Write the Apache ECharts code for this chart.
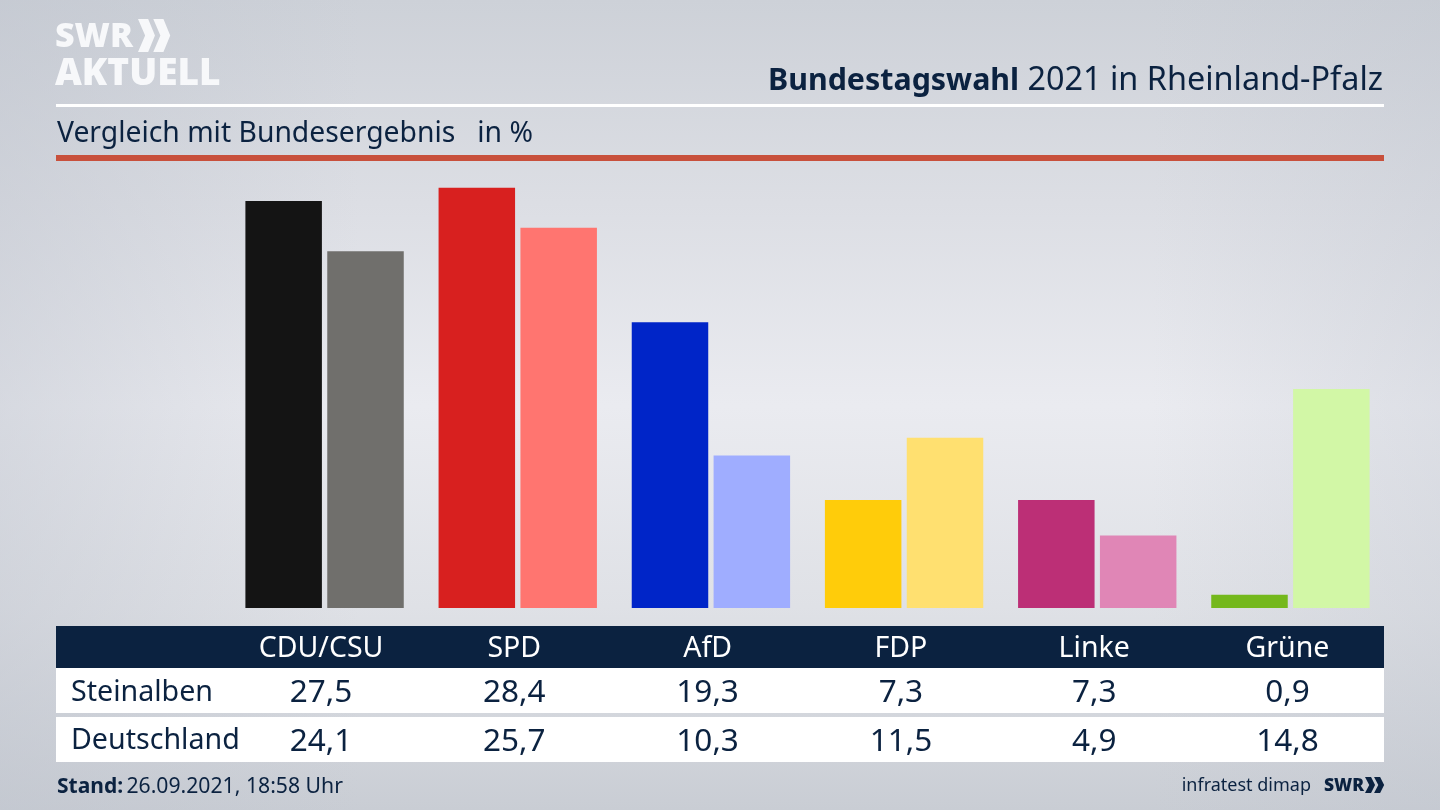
<!DOCTYPE html>
<html>
<head>
<meta charset="utf-8">
<title>Bundestagswahl 2021 in Rheinland-Pfalz</title>
<script src="https://cdn.jsdelivr.net/npm/echarts@6/dist/echarts.min.js"></script>
<style>
html, body { margin: 0; padding: 0; }
#chart { width: 1440px; height: 810px; }
</style>
</head>
<body>
<div id="chart"></div>
<script>
var parties = ['CDU/CSU', 'SPD', 'AfD', 'FDP', 'Linke', 'Grüne'];
var steinalben = [27.5, 28.4, 19.3, 7.3, 7.3, 0.9];
var deutschland = [24.1, 25.7, 10.3, 11.5, 4.9, 14.8];
var colorsDark = ['#141414', '#d8201f', '#0025c8', '#ffcc0a', '#bc2f76', '#74b81c'];
var colorsLight = ['#706f6c', '#ff7570', '#9fadff', '#ffe070', '#e086b6', '#d2f7a6'];

var navy = '#0b2240';
var font = '"Noto Sans"';
var myChart = echarts.init(document.getElementById('chart'));

function fmt(v) {
    return v.toFixed(1).replace('.', ',');
}

function rect(x, y, w, h, fill) {
    return { type: 'rect', silent: true, shape: { x: x, y: y, width: w, height: h }, style: { fill: fill } };
}

function text(x, y, str, size, color, align, weight) {
    return {
        type: 'text', silent: true, x: x, y: y,
        style: {
            text: str, fontFamily: font, fontSize: size, fill: color,
            align: align || 'left', verticalAlign: 'middle', fontWeight: weight || 'normal'
        }
    };
}

function chevrons(x, y, w, h, fill) {
    var d = w * 0.53;
    var res = [];
    [0, d * 0.9].forEach(function (off) {
        res.push({
            type: 'polygon', silent: true,
            shape: { points: [
                [x + off, y], [x + off + d * 0.6, y], [x + off + d, y + h / 2],
                [x + off + d * 0.6, y + h], [x + off, y + h], [x + off + d * 0.42, y + h / 2]
            ] },
            style: { fill: fill }
        });
    });
    return res;
}

var g = [];
// soft vignette on the sides
g.push({
    type: 'rect', silent: true, z: -1,
    shape: { x: 0, y: 0, width: 1440, height: 810 },
    style: { fill: new echarts.graphic.LinearGradient(0, 0, 1, 0, [
        { offset: 0, color: 'rgba(190,195,205,0.45)' },
        { offset: 0.25, color: 'rgba(190,195,205,0)' },
        { offset: 0.8, color: 'rgba(190,195,205,0)' },
        { offset: 1, color: 'rgba(190,195,205,0.3)' }
    ]) }
});

// logo
g.push(text(55, 37, 'SWR', 34, '#f7f8fa', 'left', 900));
g.push(text(55, 74, 'AKTUELL', 37, '#f7f8fa', 'left', 900));
g = g.concat(chevrons(138, 19, 32, 33, '#f7f8fa'));

// header
g.push({
    type: 'text', silent: true, x: 1383, y: 81,
    style: {
        text: '{b|Bundestagswahl} {r|2021 in Rheinland-Pfalz}',
        align: 'right', verticalAlign: 'middle',
        rich: {
            b: { fontFamily: font, fontSize: 30.4, fontWeight: 'bold', fill: navy, color: navy, padding: [0, 5, 0, 0] },
            r: { fontFamily: font, fontSize: 32.4, fill: navy, color: navy }
        }
    }
});
g.push(rect(56, 104, 1328, 3, '#ffffff'));
g.push(text(57, 134, 'Vergleich mit Bundesergebnis   in %', 28.3, navy));
g.push(rect(56, 155, 1328, 6, '#c8503c'));

// table
g.push(rect(56, 626, 1328, 42, navy));
g.push(rect(56, 668, 1328, 45, '#ffffff'));
g.push(rect(56, 717, 1328, 45, '#ffffff'));
g.push(text(71, 693, 'Steinalben', 28.6, navy));
g.push(text(71, 741, 'Deutschland', 28.6, navy));
parties.forEach(function (p, i) {
    var cx = 321 + 193.3 * i;
    g.push(text(cx, 649, p, 28.5, '#ffffff', 'center'));
    g.push(text(cx, 693, fmt(steinalben[i]), 31.5, navy, 'center'));
    g.push(text(cx, 742, fmt(deutschland[i]), 31.5, navy, 'center'));
});

// footer
g.push({
    type: 'text', silent: true, x: 57, y: 787,
    style: {
        text: '{b|Stand:} {r|26.09.2021, 18:58 Uhr}',
        verticalAlign: 'middle',
        rich: {
            b: { fontFamily: font, fontSize: 21, fontWeight: 'bold', fill: navy, color: navy },
            r: { fontFamily: font, fontSize: 21.2, fill: navy, color: navy }
        }
    }
});
g.push(text(1311, 786, 'infratest dimap', 18, navy, 'right'));
g.push(text(1324, 786, 'SWR', 17.5, navy, 'left', 900));
g = g.concat(chevrons(1365, 777, 19, 16, navy));

var option = {
    animation: false,
    backgroundColor: new echarts.graphic.LinearGradient(0, 0, 0, 1, [
        { offset: 0, color: '#cdd1d8' },
        { offset: 0.25, color: '#dcdee4' },
        { offset: 0.5, color: '#eaebf0' },
        { offset: 0.75, color: '#dfe1e6' },
        { offset: 1, color: '#c9cdd4' }
    ]),
    grid: { left: 228, right: 53, top: 164, bottom: 202 },
    xAxis: {
        type: 'category',
        data: parties,
        axisLine: { show: false },
        axisTick: { show: false },
        axisLabel: { show: false }
    },
    yAxis: { type: 'value', min: 0, max: 30, show: false },
    graphic: g,
    series: [{
        type: 'bar',
        name: 'Steinalben',
        barWidth: 76.5,
        barGap: '7%',
        data: steinalben,
        itemStyle: { color: function (p) { return colorsDark[p.dataIndex]; } }
    }, {
        type: 'bar',
        name: 'Deutschland',
        barWidth: 76.5,
        data: deutschland,
        itemStyle: { color: function (p) { return colorsLight[p.dataIndex]; } }
    }]
};
myChart.setOption(option);
</script>
</body>
</html>
